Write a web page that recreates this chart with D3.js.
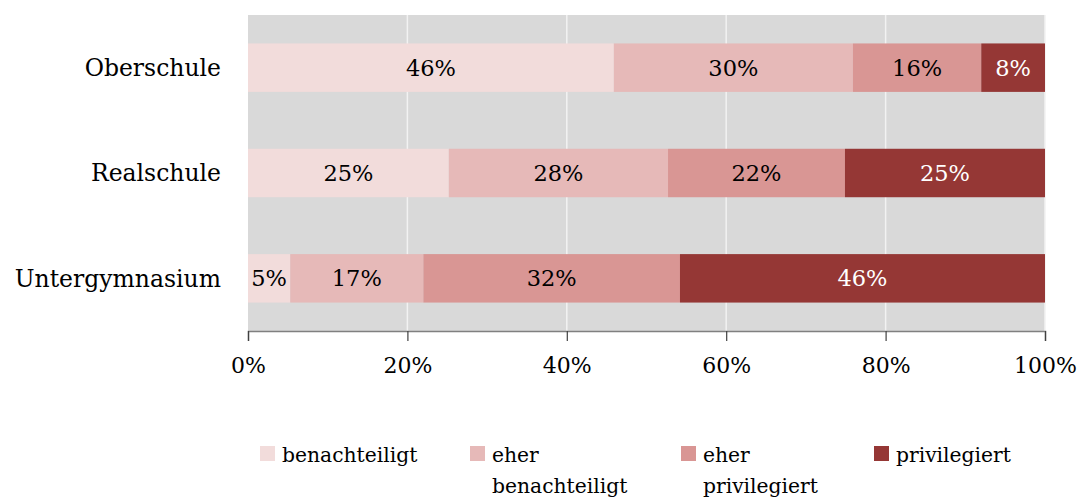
<!DOCTYPE html>
<html>
<head>
<meta charset="utf-8">
<script src="https://cdn.jsdelivr.net/npm/d3@7"></script>
<style>
  body { margin: 0; background: #fff; }
  text { font-family: "DejaVu Serif", "Liberation Serif", serif; }
</style>
</head>
<body>
<div id="chart"></div>
<script>
  // ---- data
  var categories = ['Oberschule', 'Realschule', 'Untergymnasium'];
  var seriesNames = ['benachteiligt', 'eher benachteiligt', 'eher privilegiert', 'privilegiert'];
  var benachteiligt      = [45.9, 25.2, 5.3];
  var eherBenachteiligt  = [30.0, 27.5, 16.7];
  var eherPrivilegiert   = [16.1, 22.2, 32.2];
  var privilegiert       = [8.0, 25.1, 45.8];
  var tickValues = [0, 20, 40, 60, 80, 100];

  var colors = ['#f2dcdb', '#e6b9b8', '#d99694', '#953735'];
  var labelColors = ['#000', '#000', '#000', '#fff'];

  var width = 1084, height = 499;
  var margin = {left: 248, right: 39, top: 15, bottom: 168};
  var plotW = width - margin.left - margin.right,
      plotH = height - margin.top - margin.bottom;

  var svg = d3.select('#chart').append('svg')
    .attr('width', width)
    .attr('height', height);

  var g = svg.append('g')
    .attr('transform', 'translate(' + margin.left + ',' + margin.top + ')');

  var x = d3.scaleLinear().domain([0, 100]).range([0, plotW]);
  var y = d3.scaleBand().domain(categories).range([0, plotH]).paddingInner(0.54).paddingOuter(0.27);

  // background + grid
  g.append('rect')
    .attr('width', plotW)
    .attr('height', plotH)
    .attr('fill', '#d9d9d9');

  g.selectAll('line.grid')
    .data(tickValues.slice(1)).enter()
    .append('line')
    .attr('class', 'grid')
    .attr('x1', function (d) { return x(d); })
    .attr('x2', function (d) { return x(d); })
    .attr('y1', 0)
    .attr('y2', plotH)
    .attr('stroke', '#f2f2f2')
    .attr('stroke-width', 1.5);

  // stacked rows
  var rows = categories.map(function (c, i) {
    return {
      cat: c,
      benachteiligt: benachteiligt[i],
      eherBenachteiligt: eherBenachteiligt[i],
      eherPrivilegiert: eherPrivilegiert[i],
      privilegiert: privilegiert[i]
    };
  });
  var keys = ['benachteiligt', 'eherBenachteiligt', 'eherPrivilegiert', 'privilegiert'];
  var stacked = d3.stack().keys(keys)(rows);

  var layers = g.selectAll('g.layer')
    .data(stacked).enter()
    .append('g')
    .attr('class', 'layer');

  layers.selectAll('rect')
    .data(function (d) { return d; }).enter()
    .append('rect')
    .attr('x', function (d) { return x(d[0]); })
    .attr('y', function (d) { return y(d.data.cat); })
    .attr('width', function (d) { return x(d[1]) - x(d[0]); })
    .attr('height', y.bandwidth())
    .attr('fill', function () { return colors[d3.select(this.parentNode).datum().index]; });

  layers.selectAll('text')
    .data(function (d) { return d; }).enter()
    .append('text')
    .attr('x', function (d) { return (x(d[0]) + x(d[1])) / 2; })
    .attr('y', function (d) { return y(d.data.cat) + y.bandwidth() / 2; })
    .attr('dy', '0.36em')
    .attr('text-anchor', 'middle')
    .attr('font-size', 22.5)
    .attr('fill', function () { return labelColors[d3.select(this.parentNode).datum().index]; })
    .text(function (d) { return Math.round(d[1] - d[0]) + '%'; });

  // category labels
  g.selectAll('text.cat')
    .data(categories).enter()
    .append('text')
    .attr('class', 'cat')
    .attr('x', -27)
    .attr('y', function (d) { return y(d) + y.bandwidth() / 2; })
    .attr('dy', '0.36em')
    .attr('text-anchor', 'end')
    .attr('font-size', 23.5)
    .attr('fill', '#000')
    .text(function (d) { return d; });

  // x axis
  var xAxis = g.append('g')
    .attr('transform', 'translate(0,' + plotH + ')')
    .call(d3.axisBottom(x).tickValues(tickValues).tickSize(10).tickPadding(16)
      .tickFormat(function (d) { return d + '%'; }));
  xAxis.select('.domain').attr('stroke', '#808080').attr('stroke-width', 1.5);
  xAxis.selectAll('.tick line').attr('stroke', '#404040').attr('stroke-width', 1.2);
  xAxis.selectAll('.tick text')
    .attr('font-size', 22)
    .attr('font-family', '"DejaVu Serif", serif')
    .attr('fill', '#000');

  // legend
  var legendCols = [260, 470, 681, 874];
  var legend = svg.selectAll('g.legend')
    .data(seriesNames).enter()
    .append('g')
    .attr('class', 'legend')
    .attr('transform', function (d, i) { return 'translate(' + legendCols[i] + ',446)'; });

  legend.append('rect')
    .attr('width', 15)
    .attr('height', 15)
    .attr('fill', function (d, i) { return colors[i]; });

  legend.append('text')
    .attr('x', 22)
    .attr('y', 16)
    .attr('font-size', 20.3)
    .attr('fill', '#000')
    .selectAll('tspan')
    .data(function (d) { return d.split(' '); }).enter()
    .append('tspan')
    .attr('x', 22)
    .attr('dy', function (d, i) { return i === 0 ? 0 : 31; })
    .text(function (d) { return d; });
</script>
</body>
</html>
